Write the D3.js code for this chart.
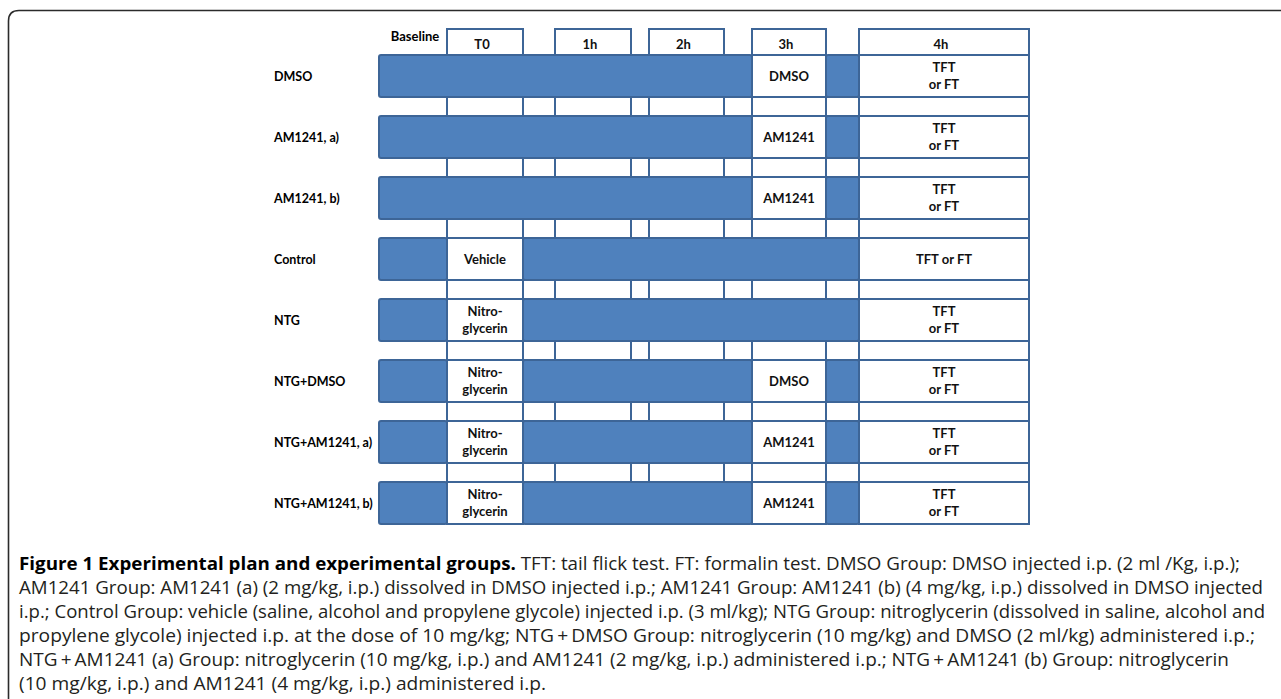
<!DOCTYPE html>
<html>
<head>
<meta charset="utf-8">
<script src="https://cdn.jsdelivr.net/npm/d3@7"></script>
<style>
	html, body { margin: 0; padding: 0; background: #fff; }
	svg { display: block; }
</style>
</head>
<body>
<div id="chart"></div>
<script>
// experimental plan: groups, timepoints and what is given in each slot
const timepoints = ['Baseline', 'T0', '1h', '2h', '3h', '4h'];
const groups = ['DMSO', 'AM1241, a)', 'AM1241, b)', 'Control', 'NTG', 'NTG+DMSO', 'NTG+AM1241, a)', 'NTG+AM1241, b)'];
const t0Dose = [null, null, null, 'Vehicle', 'Nitro-\nglycerin', 'Nitro-\nglycerin', 'Nitro-\nglycerin', 'Nitro-\nglycerin'];
const h3Dose = ['DMSO', 'AM1241', 'AM1241', null, null, 'DMSO', 'AM1241', 'AM1241'];
const testRead = ['TFT\nor FT', 'TFT\nor FT', 'TFT\nor FT', 'TFT or FT', 'TFT\nor FT', 'TFT\nor FT', 'TFT\nor FT', 'TFT\nor FT'];
const captionTitle = 'Figure 1 Experimental plan and experimental groups.';
const captionLines = [
	' TFT: tail flick test. FT: formalin test. DMSO Group: DMSO injected i.p. (2 ml /Kg, i.p.);',
	'AM1241 Group: AM1241 (a) (2 mg/kg, i.p.) dissolved in DMSO injected i.p.; AM1241 Group: AM1241 (b) (4 mg/kg, i.p.) dissolved in DMSO injected',
	'i.p.; Control Group: vehicle (saline, alcohol and propylene glycole) injected i.p. (3 ml/kg); NTG Group: nitroglycerin (dissolved in saline, alcohol and',
	'propylene glycole) injected i.p. at the dose of 10 mg/kg; NTG\u2009+\u2009DMSO Group: nitroglycerin (10 mg/kg) and DMSO (2 ml/kg) administered i.p.;',
	'NTG\u2009+\u2009AM1241 (a) Group: nitroglycerin (10 mg/kg, i.p.) and AM1241 (2 mg/kg, i.p.) administered i.p.; NTG\u2009+\u2009AM1241 (b) Group: nitroglycerin',
	'(10 mg/kg, i.p.) and AM1241 (4 mg/kg, i.p.) administered i.p.'
];

const W = 1281, H = 699;
const BLUE = '#4f81bd';
const EDGE = '#3d6597';
const FONT = 'Lato, "Open Sans", sans-serif';
const CAP_FONT = '"Open Sans", "Noto Sans", sans-serif';
const CAP_END = [1240, 1263, 1265, 1255, 1229, 546];

var svg = d3.select('#chart').append('svg')
	.attr('width', W)
	.attr('height', H);

// slots: Baseline, T0, gap, 1h, gap, 2h, gap, 3h, gap, 4h -> edges through a piecewise scale
var x = d3.scaleLinear()
	.domain(d3.range(11))
	.range([379, 447, 523, 555, 631, 649, 724, 752, 826, 859, 1029]);
var y = d3.scaleBand()
	.domain(groups)
	.range([55, 524])
	.paddingInner(19 / 61)
	.paddingOuter(0);
var slotOf = function (i) { return i === 0 ? 0 : 2 * i - 1; };

// outer frame
svg.append('path')
	.attr('d', 'M8.5,' + H + ' L8.5,21 Q8.5,10.5 19,10.5 L' + W + ',10.5')
	.attr('fill', 'none')
	.attr('stroke', '#2b2b2b')
	.attr('stroke-width', 1.6);

function multiText (g, cx, cy, label, size, weight) {
	var lines = label.split('\n');
	var t = g.append('text')
		.attr('x', cx)
		.attr('text-anchor', 'middle')
		.attr('font-family', FONT)
		.attr('font-size', size)
		.attr('font-weight', weight)
		.attr('fill', '#111');
	lines.forEach(function (l, i) {
		t.append('tspan')
			.attr('x', cx)
			.attr('y', cy + (i - (lines.length - 1) / 2) * 16.5 + size * 0.36)
			.text(l);
	});
}

// header boxes
var top0 = y(groups[0]);
timepoints.forEach(function (tp, i) {
	var s = slotOf(i);
	if (i === 0) {
		svg.append('text')
			.attr('x', (x(0) + x(1)) / 2 + 2)
			.attr('y', 41)
			.attr('text-anchor', 'middle')
			.attr('font-family', FONT)
			.attr('font-size', 13)
			.attr('font-weight', 700)
			.text(tp);
		return;
	}
	svg.append('rect')
		.attr('x', x(s)).attr('y', 29)
		.attr('width', x(s + 1) - x(s)).attr('height', top0 - 29)
		.attr('fill', '#fff').attr('stroke', EDGE).attr('stroke-width', 2);
	multiText(svg, (x(s) + x(s + 1)) / 2 - 3, 44.5, tp, 13, 700);
});

// gap rows between groups
groups.slice(1).forEach(function (g, gi) {
	var y0 = y(groups[gi]) + y.bandwidth();
	var y1 = y(g);
	d3.range(1, 10).forEach(function (s) {
		svg.append('rect')
			.attr('x', x(s)).attr('y', y0)
			.attr('width', x(s + 1) - x(s)).attr('height', y1 - y0)
			.attr('fill', '#fff').attr('stroke', EDGE).attr('stroke-width', 2);
	});
});

// group rows
groups.forEach(function (g, gi) {
	var cells = d3.range(10).map(function () { return null; });
	cells[slotOf(1)] = t0Dose[gi];
	cells[slotOf(4)] = h3Dose[gi];
	cells[slotOf(5)] = testRead[gi];
	var top = y(g), bh = y.bandwidth();

	svg.append('text')
		.attr('x', 274)
		.attr('y', top + bh / 2 + 5)
		.attr('font-family', FONT)
		.attr('font-size', 12.5)
		.attr('font-weight', 700)
		.text(g);

	// runs of untreated slots become one blue bar
	var runs = [], start = null;
	cells.forEach(function (c, s) {
		if (c === null && start === null) start = s;
		if (c !== null && start !== null) { runs.push([start, s]); start = null; }
	});
	if (start !== null) runs.push([start, 10]);

	cells.forEach(function (c, s) {
		if (c === null) return;
		svg.append('rect')
			.attr('x', x(s)).attr('y', top)
			.attr('width', x(s + 1) - x(s)).attr('height', bh)
			.attr('fill', '#fff').attr('stroke', EDGE).attr('stroke-width', 2);
		multiText(svg, (x(s) + x(s + 1)) / 2, top + bh / 2, c, 13, 700);
	});
	runs.forEach(function (r) {
		svg.append('rect')
			.attr('x', x(r[0])).attr('y', top)
			.attr('width', x(r[1]) - x(r[0])).attr('height', bh)
			.attr('rx', 2)
			.attr('fill', BLUE).attr('stroke', EDGE).attr('stroke-width', 2);
	});
});

// caption
captionLines.forEach(function (line, i) {
	var t = svg.append('text')
		.attr('x', 19)
		.attr('y', 570 + i * 24)
		.attr('font-family', CAP_FONT)
		.attr('font-size', 17.5)
		.attr('fill', '#231f20')
		.attr('textLength', CAP_END[i] - 19)
		.attr('lengthAdjust', 'spacingAndGlyphs');
	if (i === 0) {
		t.append('tspan').attr('font-weight', 700).attr('fill', '#000').text(captionTitle);
	}
	t.append('tspan').attr('font-weight', 400).text(line);
});
</script>
</body>
</html>
